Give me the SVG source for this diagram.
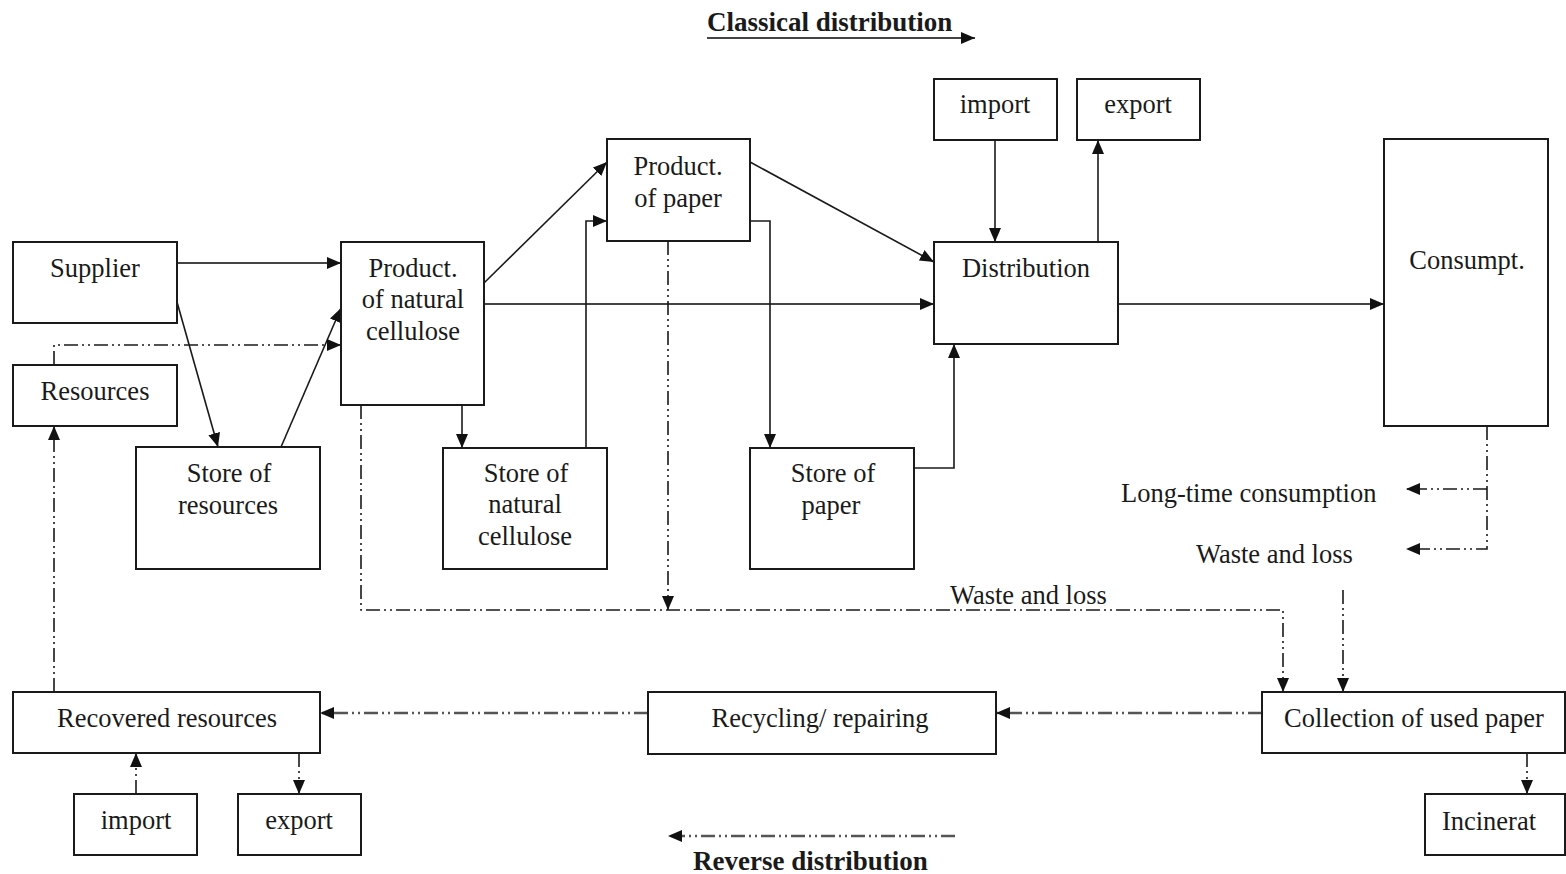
<svg xmlns="http://www.w3.org/2000/svg" width="1566" height="874" viewBox="0 0 1566 874">
<style>
.box{fill:#fff;stroke:#1a1a1a;stroke-width:2}
.t{font-family:"Liberation Serif","Times New Roman",serif;font-size:26.5px;fill:#1a1a1a;text-anchor:middle}
.tl{font-family:"Liberation Serif","Times New Roman",serif;font-size:26.5px;fill:#1a1a1a}
.b{font-family:"Liberation Serif","Times New Roman",serif;font-size:27px;font-weight:bold;fill:#1a1a1a}
.s{fill:none;stroke:#1a1a1a;stroke-width:1.6;marker-end:url(#ah)}
.sg{fill:none;stroke:#444;stroke-width:2.2;marker-end:url(#ah)}
.d{fill:none;stroke:#1a1a1a;stroke-width:1.6;stroke-dasharray:14 4 2 4 2 4;marker-end:url(#ah)}
.dg{fill:none;stroke:#555;stroke-width:2.6;stroke-dasharray:14 4 2 4 2 4;marker-end:url(#ah)}
</style>
<defs>
<marker id="ah" markerUnits="userSpaceOnUse" markerWidth="15" markerHeight="13" refX="14" refY="6" orient="auto">
<path d="M0,0 L14,6 L0,12 z" fill="#111"/>
</marker>
</defs>
<rect width="1566" height="874" fill="#fff"/>

<g id="connectors">
<path class="sg" d="M177,263 H341"/>
<path class="s" d="M177,302 L218,447"/>
<path class="s" d="M281,447 L341,308"/>
<path class="s" d="M484,283 L607,162"/>
<path class="sg" d="M484,304 H934"/>
<path class="s" d="M462,405 V448"/>
<path class="s" d="M586,448 V221 H607"/>
<path class="s" d="M750,221 H770 V448"/>
<path class="s" d="M750,162 L934,262"/>
<path class="s" d="M914,468 H954 V344"/>
<path class="s" d="M995,140 V242"/>
<path class="s" d="M1098,242 V140"/>
<path class="sg" d="M1118,304 H1384"/>
<path class="sg" d="M707,38 H975"/>
<path class="d" d="M54,365 V345 H341"/>
<path class="d" d="M54,692 V426"/>
<path class="d" d="M361,405 V610 H1283 V692"/>
<path class="d" d="M668,241 V610"/>
<path class="d" d="M1487,426 V549 H1406"/>
<path class="d" d="M1487,489 H1406"/>
<path class="d" d="M1343,590 V692"/>
<path class="dg" d="M1262,713 H996"/>
<path class="dg" d="M648,713 H320"/>
<path class="d" d="M136,794 V753"/>
<path class="d" d="M299,753 V794"/>
<path class="d" d="M1527,753 V794"/>
<path class="dg" d="M955,836 H668"/>
</g>

<g id="supplier"><rect class="box" x="13" y="242" width="164" height="81"/><text class="t" x="95" y="277">Supplier</text></g>
<g id="resources"><rect class="box" x="13" y="365" width="164" height="61"/><text class="t" x="95" y="400">Resources</text></g>
<g id="store-resources"><rect class="box" x="136" y="447" width="184" height="122"/><text class="t" x="229" y="482">Store of</text><text class="t" x="228" y="514">resources</text></g>
<g id="prod-cellulose"><rect class="box" x="341" y="242" width="143" height="163"/><text class="t" x="413" y="277">Product.</text><text class="t" x="413" y="308">of natural</text><text class="t" x="413" y="340">cellulose</text></g>
<g id="store-cellulose"><rect class="box" x="443" y="448" width="164" height="121"/><text class="t" x="526" y="482">Store of</text><text class="t" x="525" y="513">natural</text><text class="t" x="525" y="545">cellulose</text></g>
<g id="prod-paper"><rect class="box" x="607" y="139" width="143" height="102"/><text class="t" x="678" y="175">Product.</text><text class="t" x="678" y="207">of paper</text></g>
<g id="store-paper"><rect class="box" x="750" y="448" width="164" height="121"/><text class="t" x="833" y="482">Store of</text><text class="t" x="831" y="514">paper</text></g>
<g id="distribution"><rect class="box" x="934" y="242" width="184" height="102"/><text class="t" x="1026" y="277">Distribution</text></g>
<g id="import-top"><rect class="box" x="934" y="79" width="123" height="61"/><text class="t" x="995" y="113">import</text></g>
<g id="export-top"><rect class="box" x="1077" y="79" width="123" height="61"/><text class="t" x="1138" y="113">export</text></g>
<g id="consumpt"><rect class="box" x="1384" y="139" width="164" height="287"/><text class="t" x="1467" y="269">Consumpt.</text></g>
<g id="collection"><rect class="box" x="1262" y="692" width="303" height="61"/><text class="t" x="1414" y="727">Collection of used paper</text></g>
<g id="incinerat"><rect class="box" x="1425" y="794" width="140" height="61"/><text class="t" x="1489" y="830">Incinerat</text></g>
<g id="recycling"><rect class="box" x="648" y="692" width="348" height="62"/><text class="t" x="820" y="727">Recycling/ repairing</text></g>
<g id="recovered"><rect class="box" x="13" y="692" width="307" height="61"/><text class="t" x="167" y="727">Recovered resources</text></g>
<g id="import-bottom"><rect class="box" x="74" y="794" width="123" height="61"/><text class="t" x="136" y="829">import</text></g>
<g id="export-bottom"><rect class="box" x="238" y="794" width="123" height="61"/><text class="t" x="299" y="829">export</text></g>

<g id="labels">
<text class="b" x="707" y="31">Classical distribution</text>
<text class="b" x="693" y="870">Reverse distribution</text>
<text class="tl" x="1121" y="502">Long-time consumption</text>
<text class="tl" x="1196" y="563">Waste and loss</text>
<text class="tl" x="950" y="604">Waste and loss</text>
</g>
</svg>
